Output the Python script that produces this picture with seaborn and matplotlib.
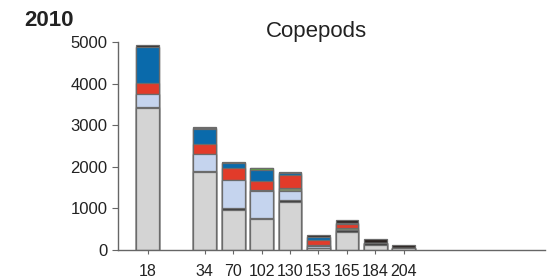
import pandas as pd
import numpy as np
import matplotlib
matplotlib.use("Agg")
import matplotlib.pyplot as plt
import seaborn as sns

# stations (day of year) and stacked abundances per group
stations = ["18", "34", "70", "102", "130", "153", "165", "184", "204"]
grey      = [3420, 1880,  960,  740, 1160,  40, 440, 120, 40]
dark      = [  20,   10,   40,   30,   40,  20,  40,  40, 20]
lightblue = [ 300,  410,  680,  650,  220,  40,   0,   0,  0]
olive     = [   0,   20,    0,   20,   60,  20,  60,   0,  0]
red       = [ 280,  230,  280,  230,  320, 120,  90,  20,  0]
blue      = [ 870,  360,  120,  250,   50,  80,  30,   0,  0]
green     = [   0,   35,    0,   50,    0,   0,   0,   0,  0]
black     = [  40,   15,   30,    0,   20,  30,  60,  90, 60]

layers = [("grey", grey, "#d4d4d4"), ("dark", dark, "#3a3a3a"),
          ("lightblue", lightblue, "#c5d4ee"), ("olive", olive, "#7e8b6c"),
          ("red", red, "#e23b2a"), ("blue", blue, "#0a6aab"),
          ("green", green, "#5fa441"), ("black", black, "#2a2220")]

df = pd.DataFrame({"station": stations})
cum = np.zeros(len(stations))
for name, vals, col in layers:
    cum = cum + np.array(vals)
    df[name] = cum

plt.rcParams['font.family'] = ['Liberation Sans', 'DejaVu Sans']
fig = plt.figure(figsize=(5.54, 2.8), dpi=100)
ax = fig.add_axes([0.213, 0.107, 0.771, 0.743])

order = ["18", "gap"] + stations[1:]
for name, vals, col in reversed(layers):
    sns.barplot(data=df, x="station", y=name, order=order, color=col,
                width=0.8, edgecolor="#6b6b6b", linewidth=0.9, ax=ax,
                saturation=1, errorbar=None)

ticks = [order.index(s) for s in stations]
ax.set_xticks(ticks)
ax.set_xticklabels(stations)
ax.set_xlim(-1.05, 13.97)
ax.set_ylim(0, 5000)
ax.set_yticks([0, 1000, 2000, 3000, 4000, 5000])
ax.set_xlabel("")
ax.set_ylabel("")
for s in ["top", "right"]:
    ax.spines[s].set_visible(False)
for s in ["left", "bottom"]:
    ax.spines[s].set_color("#666666")
    ax.spines[s].set_linewidth(1.0)
ax.tick_params(axis="y", labelsize=12, colors="#666666", labelcolor="#222222",
               length=4.5, pad=3)
ax.tick_params(axis="x", labelsize=11.5, colors="#666666", labelcolor="#222222",
               length=3, pad=7)

fig.text(24 / 554, 1 - 26 / 280, "2010", fontsize=16, fontweight="bold", color="#222222")
fig.text(316 / 554, 1 - 37 / 280, "Copepods", fontsize=16, color="#222222", ha="center")

fig.savefig("out.png", dpi=100)
